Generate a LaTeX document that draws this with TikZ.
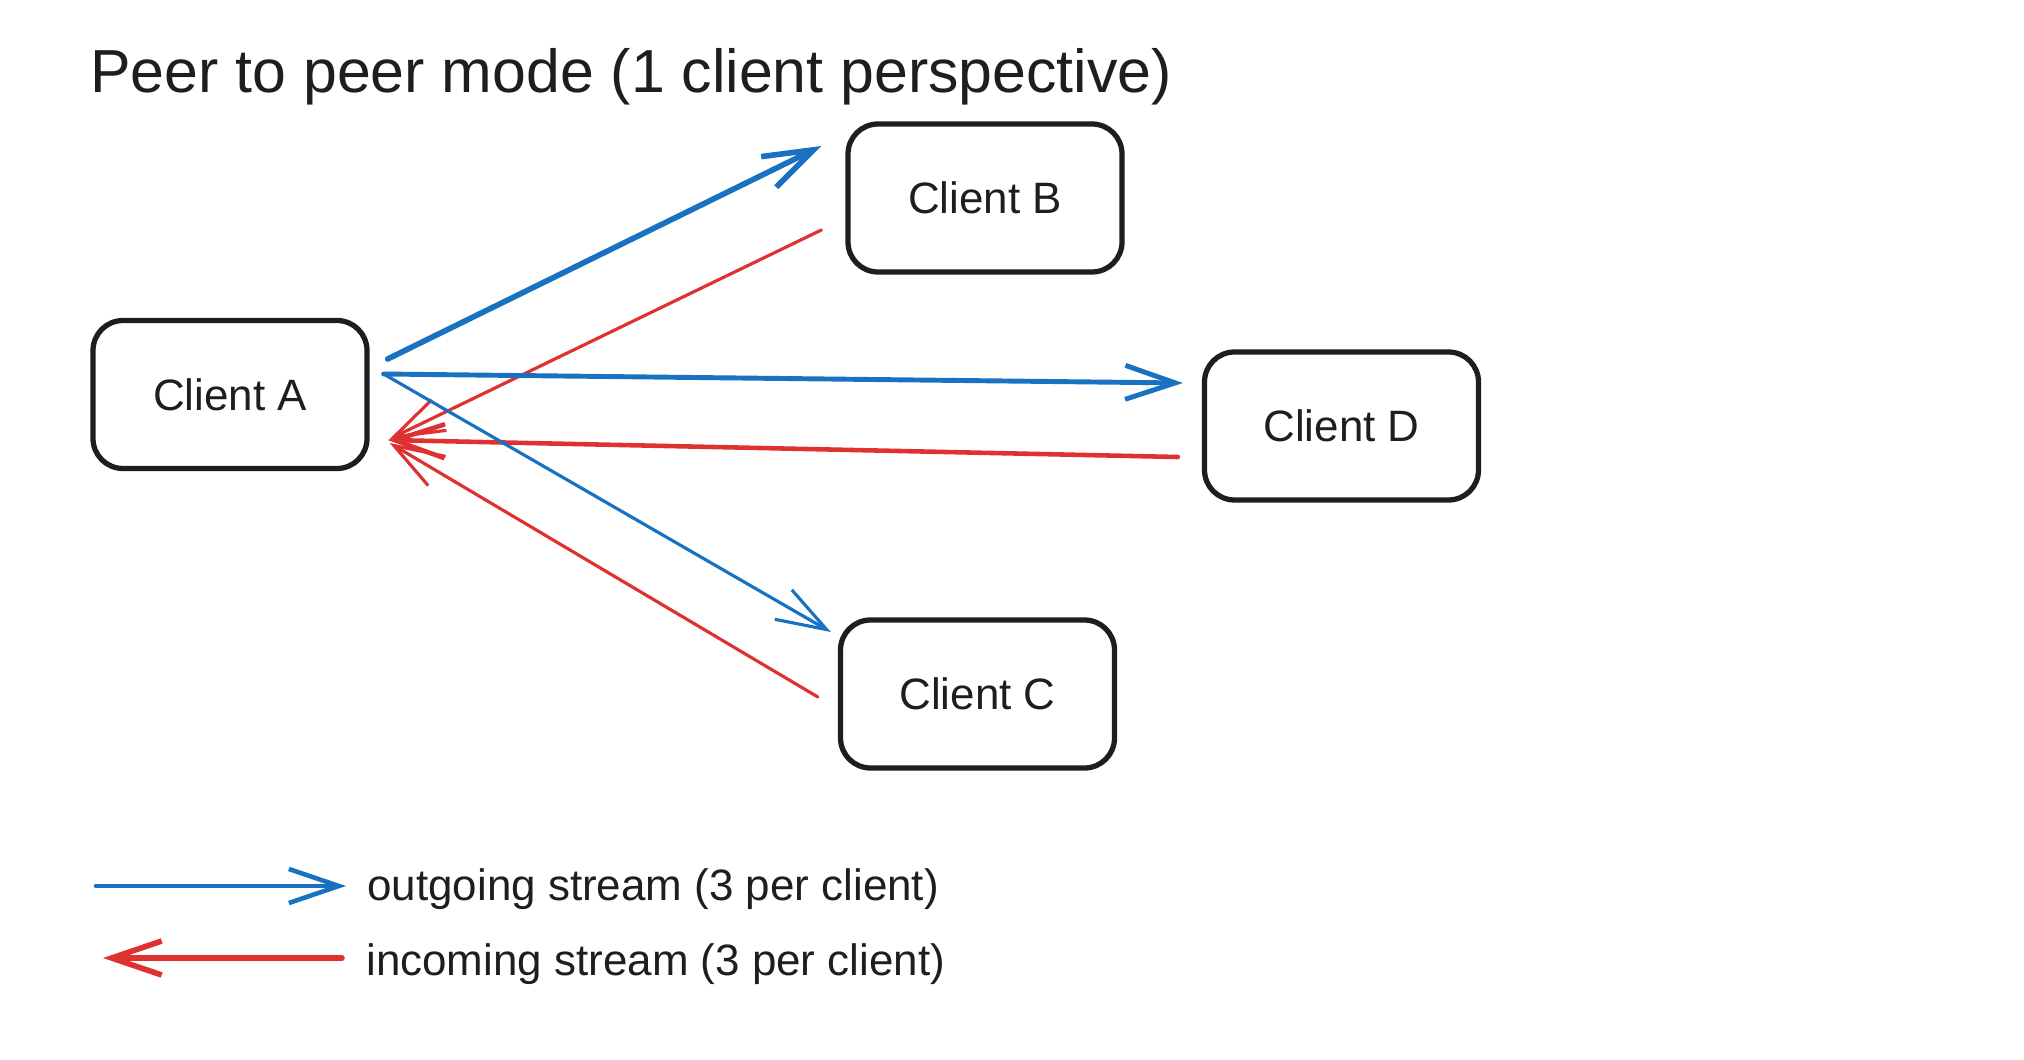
\documentclass[tikz,border=0pt]{standalone}
\usepackage{fontspec}
\setmainfont{Liberation Sans}
\usepackage{tikz}
\usetikzlibrary{arrows.meta, shapes}

\definecolor{outblue}{HTML}{1971C2}
\definecolor{inred}{HTML}{E03131}
\definecolor{ink}{HTML}{1E1E1E}

\begin{document}
\begin{tikzpicture}[>={Straight Barb[length=5mm, width=3.4mm]}, line cap=round,
		client/.style={draw=ink, text=ink, line width=1.5pt, rounded corners=3mm, minimum width=2.74cm, minimum height=1.48cm, font=\fontsize{12.5}{15}\selectfont},
		outgoing/.style={->, draw=outblue, line width=0.9pt},
		incoming/.style={->, draw=inred, line width=0.9pt},
		legend/.style={anchor=base west, text=ink, font=\fontsize{12.5}{15}\selectfont}]
		\useasboundingbox (0, 0) rectangle (20.24, -10.6);
		\node[anchor=base west, text=ink, font=\fontsize{17.3}{20}\selectfont] (title) at (0.78, -0.93) {Peer to peer mode (1 client perspective)};
		
		\node[client] (A) at (2.30, -3.945) {Client A};
		\node[client] (B) at (9.85, -1.98) {Client B};
		\node[client] (D) at (13.415, -4.26) {Client D};
		\node[client] (C) at (9.775, -6.94) {Client C};
		
		\path ([xshift=1.8mm, yshift=3.55mm]A.east) edge[outgoing, line width=1.6pt] ([xshift=-2.4mm, yshift=5.2mm]B.west)
			([xshift=-2.4mm, yshift=-3.2mm]B.west) edge[incoming] ([xshift=2mm, yshift=-4.45mm]A.east)
			([xshift=1.4mm, yshift=2.05mm]A.east) edge[outgoing, line width=1.4pt] ([xshift=-1.9mm, yshift=4.3mm]D.west)
			([xshift=-2.4mm, yshift=-3.1mm]D.west) edge[incoming, line width=1.3pt] ([xshift=1.8mm, yshift=-4.55mm]A.east)
			([xshift=1.4mm, yshift=2.05mm]A.east) edge[outgoing] ([xshift=-0.7mm, yshift=6.2mm]C.west)
			([xshift=-2mm, yshift=-0.3mm]C.west) edge[incoming] ([xshift=2mm, yshift=-4.85mm]A.east);
		
		\coordinate (outstart) at (0.96, -8.86);
		\coordinate (outend) at (3.46, -8.86);
		\coordinate (instart) at (3.42, -9.58);
		\coordinate (inend) at (1.03, -9.58);
		\node[legend] (outtext) at (3.55, -9.0) {outgoing stream (3 per client)};
		\node[legend] (intext) at (3.54, -9.75) {incoming stream (3 per client)};
		\path (outstart) edge[outgoing, line width=1.3pt] (outend)
			(instart) edge[incoming, line width=1.6pt] (inend);
	\end{tikzpicture}
\end{document}
